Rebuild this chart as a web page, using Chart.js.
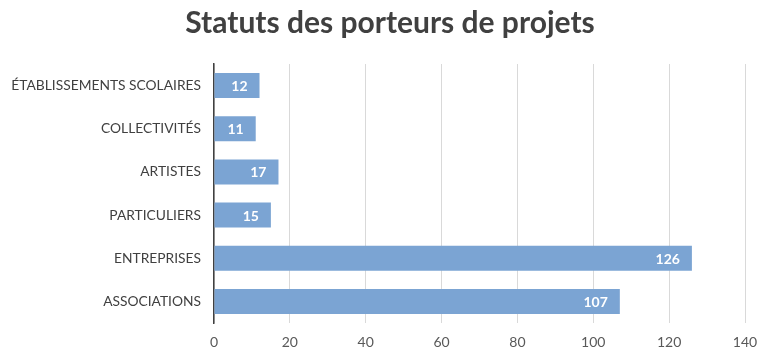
<!DOCTYPE html>
<html>
<head>
<meta charset="utf-8">
<script src="https://cdn.jsdelivr.net/npm/chart.js@4/dist/chart.umd.min.js"></script>
<style>
  html, body { margin: 0; padding: 0; background: #fff; }
  #wrap { width: 760px; height: 354px; position: relative; }
</style>
</head>
<body>
<div id="wrap"><canvas id="c" width="760" height="354"></canvas></div>
<script>
// Porteurs de projets par statut
const chartTitle = 'Statuts des porteurs de projets';
const categories = [
  'ÉTABLISSEMENTS SCOLAIRES',
  'COLLECTIVITÉS',
  'ARTISTES',
  'PARTICULIERS',
  'ENTREPRISES',
  'ASSOCIATIONS'
];
const counts = [12, 11, 17, 15, 126, 107];
const xTicks = [0, 20, 40, 60, 80, 100, 120, 140];

const FONT = 'Lato, "Open Sans", "DejaVu Sans", sans-serif';

// Title drawn across the top, slightly right of the canvas centre
const titleText = {
  id: 'titleText',
  afterDraw(chart) {
    const ctx = chart.ctx;
    ctx.save();
    ctx.font = 'bold 30px ' + FONT;
    ctx.fillStyle = '#404040';
    ctx.textAlign = 'center';
    ctx.textBaseline = 'middle';
    ctx.fillText(chartTitle, 390, 23);
    ctx.restore();
  }
};

// White value labels drawn just inside the end of each bar
const valueLabels = {
  id: 'valueLabels',
  afterDatasetsDraw(chart) {
    const ctx = chart.ctx;
    const meta = chart.getDatasetMeta(0);
    ctx.save();
    ctx.font = 'bold 14px ' + FONT;
    ctx.fillStyle = '#ffffff';
    ctx.textAlign = 'right';
    ctx.textBaseline = 'middle';
    meta.data.forEach((bar, i) => {
      ctx.fillText(String(counts[i]), bar.x - 12, bar.y + 1);
    });
    ctx.restore();
  }
};

new Chart(document.getElementById('c'), {
  type: 'bar',
  data: {
    labels: categories,
    datasets: [{
      data: counts,
      backgroundColor: '#7ba4d3',
      borderWidth: 0,
      categoryPercentage: 1.0,
      barPercentage: 0.58
    }]
  },
  options: {
    indexAxis: 'y',
    responsive: false,
    animation: false,
    layout: { padding: { left: 0, right: 15, top: 64, bottom: 0 } },
    plugins: {
      legend: { display: false },
      tooltip: { enabled: false },
      title: { display: false }
    },
    scales: {
      x: {
        min: 0,
        max: 140,
        afterBuildTicks(scale) {
          scale.ticks = xTicks.map(v => ({ value: v }));
        },
        grid: {
          color: '#d9d9d9',
          lineWidth: 1,
          drawTicks: false
        },
        border: { display: false },
        ticks: {
          color: '#595959',
          font: { family: FONT, size: 14 },
          padding: 11
        },
        afterFit(scale) {
          scale.height = 31;
          scale.paddingLeft = 0;
          scale.paddingRight = 0;
        }
      },
      y: {
        grid: { display: false, drawTicks: false },
        border: { display: true, color: '#404040', width: 1.5 },
        ticks: {
          color: '#404040',
          font: { family: FONT, size: 13.8 },
          padding: 13
        },
        afterFit(scale) { scale.width = 214; }
      }
    }
  },
  plugins: [valueLabels, titleText]
});
</script>
</body>
</html>
